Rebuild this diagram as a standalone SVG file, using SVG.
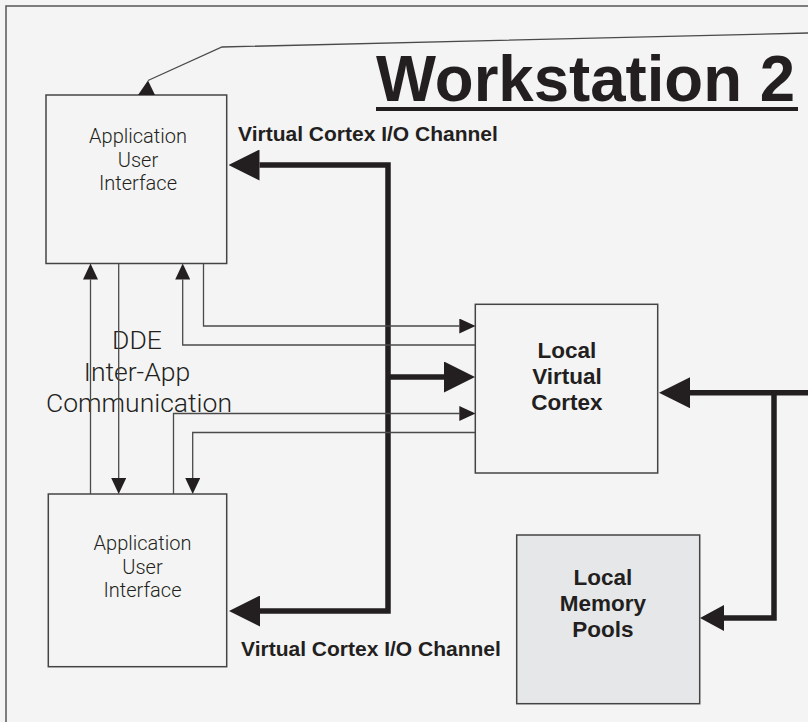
<svg xmlns="http://www.w3.org/2000/svg" width="808" height="722" viewBox="0 0 808 722">
<style>
.box{fill:#f4f4f4;stroke:#444;stroke-width:1.5}
.mem{fill:#e6e7e9;stroke:#444;stroke-width:1.5}
.app{font-family:Roboto,"Liberation Sans",sans-serif;font-weight:300;font-size:20px;fill:#231f20;text-anchor:middle}
.dde{font-family:Roboto,"Liberation Sans",sans-serif;font-weight:300;font-size:26.5px;fill:#231f20;text-anchor:middle}
.bold{font-family:"Liberation Sans",Arial,sans-serif;font-weight:bold;font-size:22.5px;fill:#231f20;text-anchor:middle}
.lbl{font-family:"Liberation Sans",Arial,sans-serif;font-weight:bold;font-size:21px;fill:#231f20}
.thin{fill:none;stroke:#4a4a4a;stroke-width:1.3}
.thick{fill:none;stroke:#231f20;stroke-width:5.5;stroke-linejoin:miter}
.head{fill:#231f20}
</style>
<defs>
<marker id="ah" markerUnits="userSpaceOnUse" viewBox="0 0 16 15" refX="0" refY="7.5" markerWidth="16" markerHeight="15" orient="auto"><path d="M0,0 L16,7.5 L0,15 z" fill="#231f20"/></marker>
<marker id="bh" markerUnits="userSpaceOnUse" viewBox="0 0 31 31" refX="0" refY="15.5" markerWidth="31" markerHeight="31" orient="auto-start-reverse"><path d="M0,0 L31,15.5 L0,31 z" fill="#231f20"/></marker>
<marker id="mh" markerUnits="userSpaceOnUse" viewBox="0 0 24 26" refX="0" refY="13" markerWidth="24" markerHeight="26" orient="auto"><path d="M0,0 L24,13 L0,26 z" fill="#231f20"/></marker>
</defs>
<rect width="808" height="722" fill="#f4f4f4"/>
<path d="M6,722 V6 H808" fill="none" stroke="#555" stroke-width="1.5"/>
<g id="title">
<text x="376" y="101" font-family="'Liberation Sans',Arial,sans-serif" font-weight="bold" font-size="64" fill="#231f20" textLength="419" lengthAdjust="spacingAndGlyphs">Workstation 2</text>
<line x1="376" y1="109" x2="798" y2="109" stroke="#231f20" stroke-width="4"/>
</g>
<g id="app-top">
<rect class="box" x="46" y="95" width="180.7" height="168.5"/>
<text class="app" x="138" y="143">Application</text>
<text class="app" x="138" y="167">User</text>
<text class="app" x="138" y="190">Interface</text>
</g>
<g id="app-bottom">
<rect class="box" x="48.3" y="494" width="178.4" height="172.7"/>
<text class="app" x="142.5" y="550">Application</text>
<text class="app" x="142.5" y="573.5">User</text>
<text class="app" x="142.5" y="597">Interface</text>
</g>
<g id="cortex">
<rect class="box" x="475.3" y="304.3" width="182.4" height="168.7"/>
<text class="bold" x="567" y="358">Local</text>
<text class="bold" x="567" y="384">Virtual</text>
<text class="bold" x="567" y="410">Cortex</text>
</g>
<g id="memory">
<rect class="mem" x="516.7" y="535" width="183" height="168.7"/>
<text class="bold" x="603" y="585">Local</text>
<text class="bold" x="603" y="611">Memory</text>
<text class="bold" x="603" y="637">Pools</text>
</g>
<g id="dde-label">
<text class="dde" x="137" y="348.5">DDE</text>
<text class="dde" x="137" y="380.5">Inter-App</text>
<text class="dde" x="139" y="412">Communication</text>
</g>
<g id="channel-labels">
<text class="lbl" x="238" y="141">Virtual Cortex I/O Channel</text>
<text class="lbl" x="241" y="656">Virtual Cortex I/O Channel</text>
</g>
<g id="connectors">
<polyline class="thin" points="808,33 222,47 148,80.5"/>
<polygon class="head" points="138,95 155,95 148,80.5"/>
<path class="thick" d="M259.5,165 H388 V611 H260" marker-start="url(#bh)" marker-end="url(#bh)"/>
<path class="thick" d="M388,377 H444" marker-end="url(#bh)"/>
<path class="thick" d="M808,392.7 H690" marker-end="url(#bh)"/>
<path class="thick" d="M774,392.7 V618 H724" marker-end="url(#mh)"/>
<path class="thin" d="M203.5,263.5 V326 H459.3" marker-end="url(#ah)"/>
<path class="thin" d="M475.3,345 H182.7 V279.5" marker-end="url(#ah)"/>
<path class="thin" d="M173.5,494 V413.5 H459.3" marker-end="url(#ah)"/>
<path class="thin" d="M475.3,432.5 H192.7 V478" marker-end="url(#ah)"/>
<path class="thin" d="M90.5,494 V279.5" marker-end="url(#ah)"/>
<path class="thin" d="M118.7,263.5 V478" marker-end="url(#ah)"/>
</g>
</svg>
